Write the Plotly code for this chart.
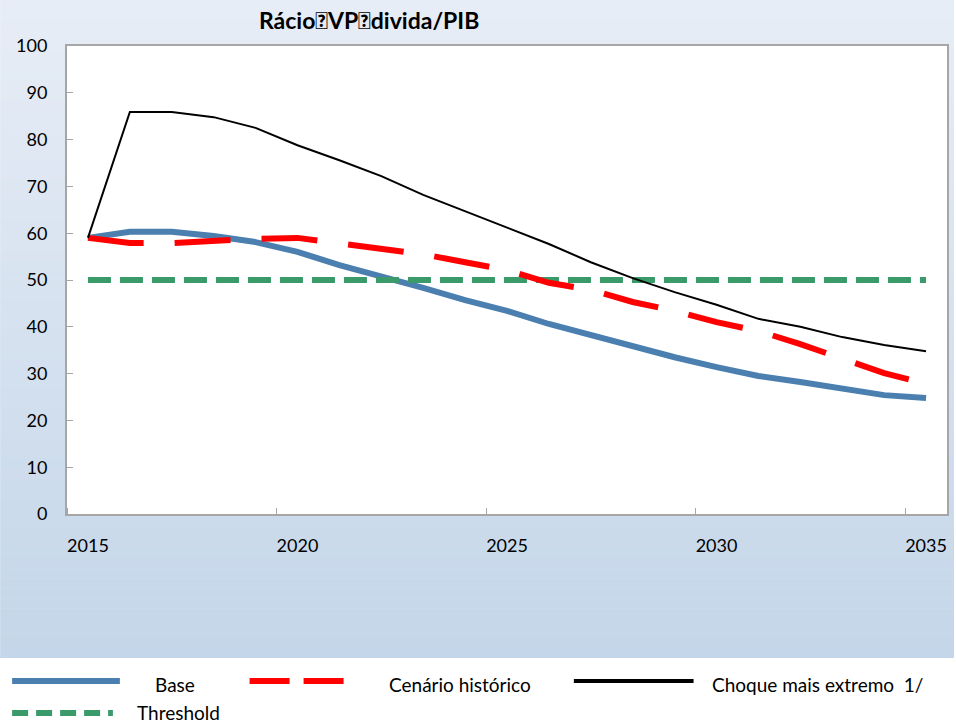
import plotly.graph_objects as go

years = list(range(2015, 2036))
base = [59.0, 60.3, 60.3, 59.4, 58.1, 56.0, 53.2, 50.9, 48.3, 45.7, 43.4,
        40.6, 38.2, 35.9, 33.5, 31.4, 29.5, 28.2, 26.7, 25.4, 24.8]
historico = [59.0, 57.9, 57.9, 58.5, 58.8, 59.0, 57.9, 56.8, 55.5, 53.8, 52.1,
             49.4, 47.9, 45.3, 43.4, 41.0, 39.1, 36.3, 33.3, 30.1, 27.8]
choque = [59.0, 85.9, 85.9, 84.8, 82.5, 78.8, 75.6, 72.2, 68.2, 64.7, 61.1,
          57.7, 53.8, 50.4, 47.4, 44.7, 41.7, 40.0, 37.8, 36.1, 34.8]
threshold = [50.0] * len(years)

series_names = ["Base", "Cenário histórico", "Choque mais extremo  1/", "Threshold"]
title_text = "Rácio\ue000VP\ue000divida/PIB"
x_tick_vals = [2015, 2020, 2025, 2030, 2035]
y_tick_vals = list(range(0, 101, 10))

W, H = 956, 726
L, R, T, B = 67, 949, 46, 514
PW, PH = R - L, B - T

def px(xp):
    return (xp - L) / PW

def py(yp):
    return (B - yp) / PH

FONT = "Lato, Liberation Sans, sans-serif"

BLUE = "#4A7FB0"
RED = "#FF0000"
BLACK = "#000000"
GREEN = "#3A9A6A"

fig = go.Figure()
fig.add_trace(go.Scatter(x=years, y=base, mode="lines", name=series_names[0],
                         line=dict(color=BLUE, width=6), showlegend=False))
fig.add_trace(go.Scatter(x=years, y=threshold, mode="lines", name=series_names[3],
                         line=dict(color=GREEN, width=6, dash="23px,9px"), showlegend=False))
fig.add_trace(go.Scatter(x=years, y=historico, mode="lines", name=series_names[1],
                         line=dict(color=RED, width=6, dash="56px,31px"), showlegend=False))
fig.add_trace(go.Scatter(x=years, y=choque, mode="lines", name=series_names[2],
                         line=dict(color=BLACK, width=2), showlegend=False))

shapes = []
# gradient background
N = 66
top_c = (0xE7, 0xED, 0xF6)
bot_c = (0xC4, 0xD6, 0xE9)
grad_bottom = 658
for i in range(N):
    y0 = grad_bottom * i / N
    y1 = grad_bottom * (i + 1) / N + 0.6
    t = i / (N - 1)
    c = tuple(round(top_c[k] + (bot_c[k] - top_c[k]) * t) for k in range(3))
    shapes.append(dict(type="rect", xref="paper", yref="paper", layer="below",
                       x0=px(0), x1=px(W), y0=py(y1), y1=py(y0),
                       fillcolor="rgb(%d,%d,%d)" % c, line=dict(width=0)))
# legend white area
shapes.append(dict(type="rect", xref="paper", yref="paper", layer="below",
                   x0=px(0), x1=px(W), y0=py(H), y1=py(grad_bottom),
                   fillcolor="white", line=dict(width=0)))
# plot area white
shapes.append(dict(type="rect", xref="paper", yref="paper", layer="below",
                   x0=0, x1=1, y0=0, y1=1, fillcolor="white", line=dict(width=0)))

# manual legend
def leg_line(x0, x1, y, color, width, dash=None):
    ln = dict(color=color, width=width)
    if dash:
        ln["dash"] = dash
    shapes.append(dict(type="line", xref="paper", yref="paper",
                       x0=px(x0), x1=px(x1), y0=py(y), y1=py(y), line=ln))

leg_line(12, 120, 681, BLUE, 6)
leg_line(250, 348, 681, RED, 6, "40px,14px")
leg_line(575, 695, 681, BLACK, 4)
leg_line(12, 113, 713, GREEN, 6, "16px,8px")

annotations = [
    dict(text=title_text, xref="paper", yref="paper", x=px(370), y=py(20),
         showarrow=False, xanchor="center", yanchor="middle",
         font=dict(family=FONT, size=23, color="black", weight="bold")),
]
leg_texts = [(series_names[0], 153, 684), (series_names[1], 388, 684),
             (series_names[2], 711, 684), (series_names[3], 135, 712)]
for txt, xx, yy in leg_texts:
    annotations.append(dict(text=txt, xref="paper", yref="paper", x=px(xx), y=py(yy),
                            showarrow=False, xanchor="left", yanchor="middle",
                            font=dict(family=FONT, size=19, color="black")))

fig.update_layout(
    width=W, height=H,
    margin=dict(l=L, r=W - R, t=T, b=H - B),
    paper_bgcolor="white", plot_bgcolor="white",
    shapes=shapes, annotations=annotations,
    showlegend=False,
    font=dict(family=FONT, size=18, color="black"),
)
fig.update_xaxes(range=[2014.5, 2035.5], tickvals=x_tick_vals, ticks="", ticklen=0,
                 showgrid=False, zeroline=False, showline=True, linecolor="#A6A6A6",
                 linewidth=2, mirror=True, ticklabelstandoff=14,
                 minor=dict(ticks="inside", ticklen=6, tickcolor="#A6A6A6", tickwidth=1,
                            tick0=2014.5, dtick=5, showgrid=False),
                 tickfont=dict(family=FONT, size=18))
fig.update_yaxes(range=[0, 100], tickvals=y_tick_vals, ticks="inside", ticklen=6,
                 tickcolor="#A6A6A6", showgrid=False, zeroline=False, showline=True,
                 linecolor="#A6A6A6", linewidth=2, mirror=True, ticklabelstandoff=14,
                 tickfont=dict(family=FONT, size=18))

fig.write_html("out.html", config={"displayModeBar": False},
               post_script="document.body.style.margin='0';document.body.style.overflow='hidden';")
